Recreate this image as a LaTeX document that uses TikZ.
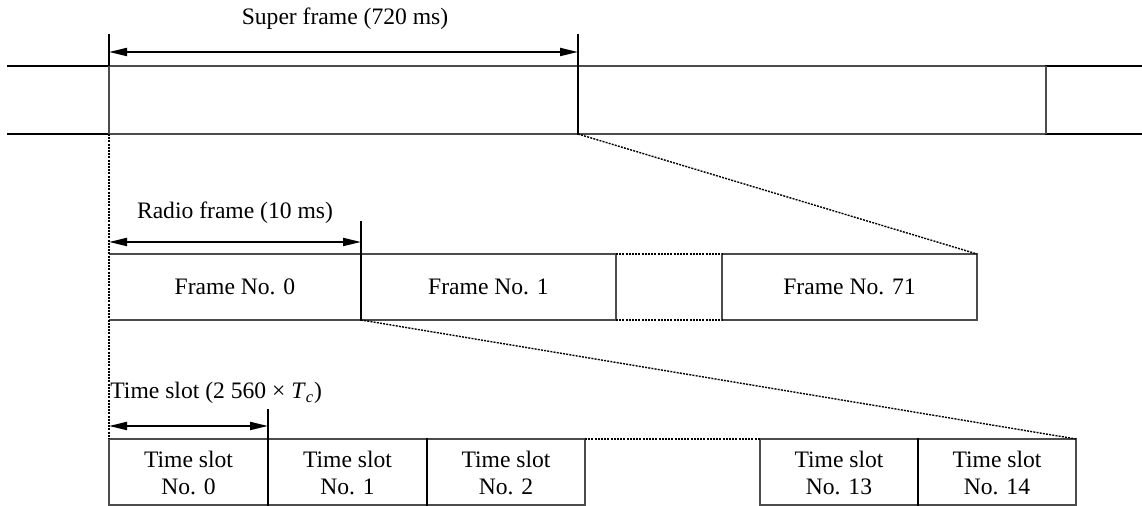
\documentclass[tikz,border=0pt]{standalone}
\usepackage{fontspec}
\setmainfont{Liberation Serif}
\usetikzlibrary{arrows.meta}
\begin{document}
\begin{tikzpicture}[x=0.5pt,y=-0.5pt,
  thickln/.style={line width=1pt, black, line cap=rect},
  thinln/.style={line width=0.65pt, black!70},
  dimarrow/.style={line width=1pt, {Triangle[length=9pt,width=4pt]}-{Triangle[length=9pt,width=4pt]}},
  dotln/.style={line width=0.7pt, dash pattern=on 1pt off 0.6pt},
  lbl/.style={font=\fontsize{11.8}{13.5}\selectfont, inner sep=0pt},
  slotlbl/.style={lbl, align=center},
]
\useasboundingbox (0,0) rectangle (1142,506);

% ---------- super frame band ----------
\coordinate (lnL1) at (8,66);    \coordinate (lnL2) at (8,134);
\coordinate (lnR1) at (1142,66); \coordinate (lnR2) at (1142,134);
\coordinate (sfTL) at (109,66);  \coordinate (sfBL) at (109,134);
\coordinate (sfTR) at (578,66);  \coordinate (sfBR) at (578,134);
\coordinate (nxTR) at (1046,66); \coordinate (nxBR) at (1046,134);
\coordinate (sfTickL) at (109,35); \coordinate (sfTickR) at (578,35);
\coordinate (sfA1) at (109,52);  \coordinate (sfA2) at (578,52);

\draw[thickln] (lnL1) -- (sfTL);
\draw[thickln] (lnL2) -- (sfBL);
\draw[thinln] (sfTL) -- (nxTR);
\draw[thinln] (sfBL) -- (nxBR);
\draw[thickln] (nxTR) -- (lnR1);
\draw[thickln] (nxBR) -- (lnR2);
\draw[thickln] (sfTickL) -- (sfTL);
\draw[thinln] (sfTL) -- (sfBL);
\draw[thickln] (sfTickR) -- (sfBR);
\draw[thinln] (nxTR) -- (nxBR);
\draw[dimarrow] (sfA1) -- (sfA2);
\node[lbl] (sflbl) at (345,19) {Super frame (720 ms)};

% ---------- radio frames ----------
\coordinate (f0TL) at (109,254); \coordinate (f0BL) at (109,320);
\coordinate (f1TL) at (361,254); \coordinate (f1BL) at (361,320);
\coordinate (gTL) at (616,254);  \coordinate (gBL) at (616,320);
\coordinate (f71TL) at (722,254); \coordinate (f71BL) at (722,320);
\coordinate (f71TR) at (977,254); \coordinate (f71BR) at (977,320);
\coordinate (rfTick) at (361,222);
\coordinate (rfA1) at (109,242); \coordinate (rfA2) at (361,242);

\draw[thinln] (f0TL) -- (gTL) -- (gBL) -- (f0BL);
\draw[thinln] (f71TL) rectangle (f71BR);
\draw[dotln] (gTL) -- (f71TL);
\draw[dotln] (gBL) -- (f71BL);
\draw[thickln] (rfTick) -- (f1BL);
\draw[dimarrow] (rfA1) -- (rfA2);
\node[lbl] (rflbl) at (235,213) {Radio frame (10 ms)};
\node[lbl] (fr0) at (235,287) {Frame No. 0};
\node[lbl] (fr1) at (488.5,287) {Frame No. 1};
\node[lbl] (fr71) at (849.5,287) {Frame No. 71};

% ---------- time slots ----------
\coordinate (s0TL) at (109,439);  \coordinate (s0BL) at (109,505);
\coordinate (s1TL) at (268,439);  \coordinate (s1BL) at (268,505);
\coordinate (s2TL) at (427,439);  \coordinate (s2BL) at (427,505);
\coordinate (s2TR) at (585,439);  \coordinate (s2BR) at (585,505);
\coordinate (s13TL) at (760,439); \coordinate (s13BL) at (760,505);
\coordinate (s14TL) at (918,439); \coordinate (s14BL) at (918,505);
\coordinate (s14TR) at (1076,439); \coordinate (s14BR) at (1076,505);
\coordinate (tsTick) at (268,410);
\coordinate (tsA1) at (109,426); \coordinate (tsA2) at (268,426);

\draw[thinln] (s0TL) rectangle (s2BR);
\draw[thinln] (s13TL) rectangle (s14BR);
\draw[dotln] (s2TR) -- (s13TL);
\draw[thickln] (tsTick) -- (s1BL);
\draw[thickln] (s2TL) -- (s2BL);
\draw[thickln] (s14TL) -- (s14BL);
\draw[dimarrow] (tsA1) -- (tsA2);
\node[lbl, anchor=west] (tslbl) at (110,393) {Time slot (2 560 × \textit{T}\textsubscript{\textit{c}})};
\node[slotlbl] (ts0) at (188.5,473) {Time slot\\No. 0};
\node[slotlbl] (ts1) at (347.5,473) {Time slot\\No. 1};
\node[slotlbl] (ts2) at (506,473) {Time slot\\No. 2};
\node[slotlbl] (ts13) at (839,473) {Time slot\\No. 13};
\node[slotlbl] (ts14) at (997,473) {Time slot\\No. 14};

% ---------- zoom connectors ----------
\draw[dotln] (sfBL) -- (s0TL);
\draw[dotln] (sfBR) -- (f71TR);
\draw[dotln] (f1BL) -- (s14TR);
\end{tikzpicture}
\end{document}
